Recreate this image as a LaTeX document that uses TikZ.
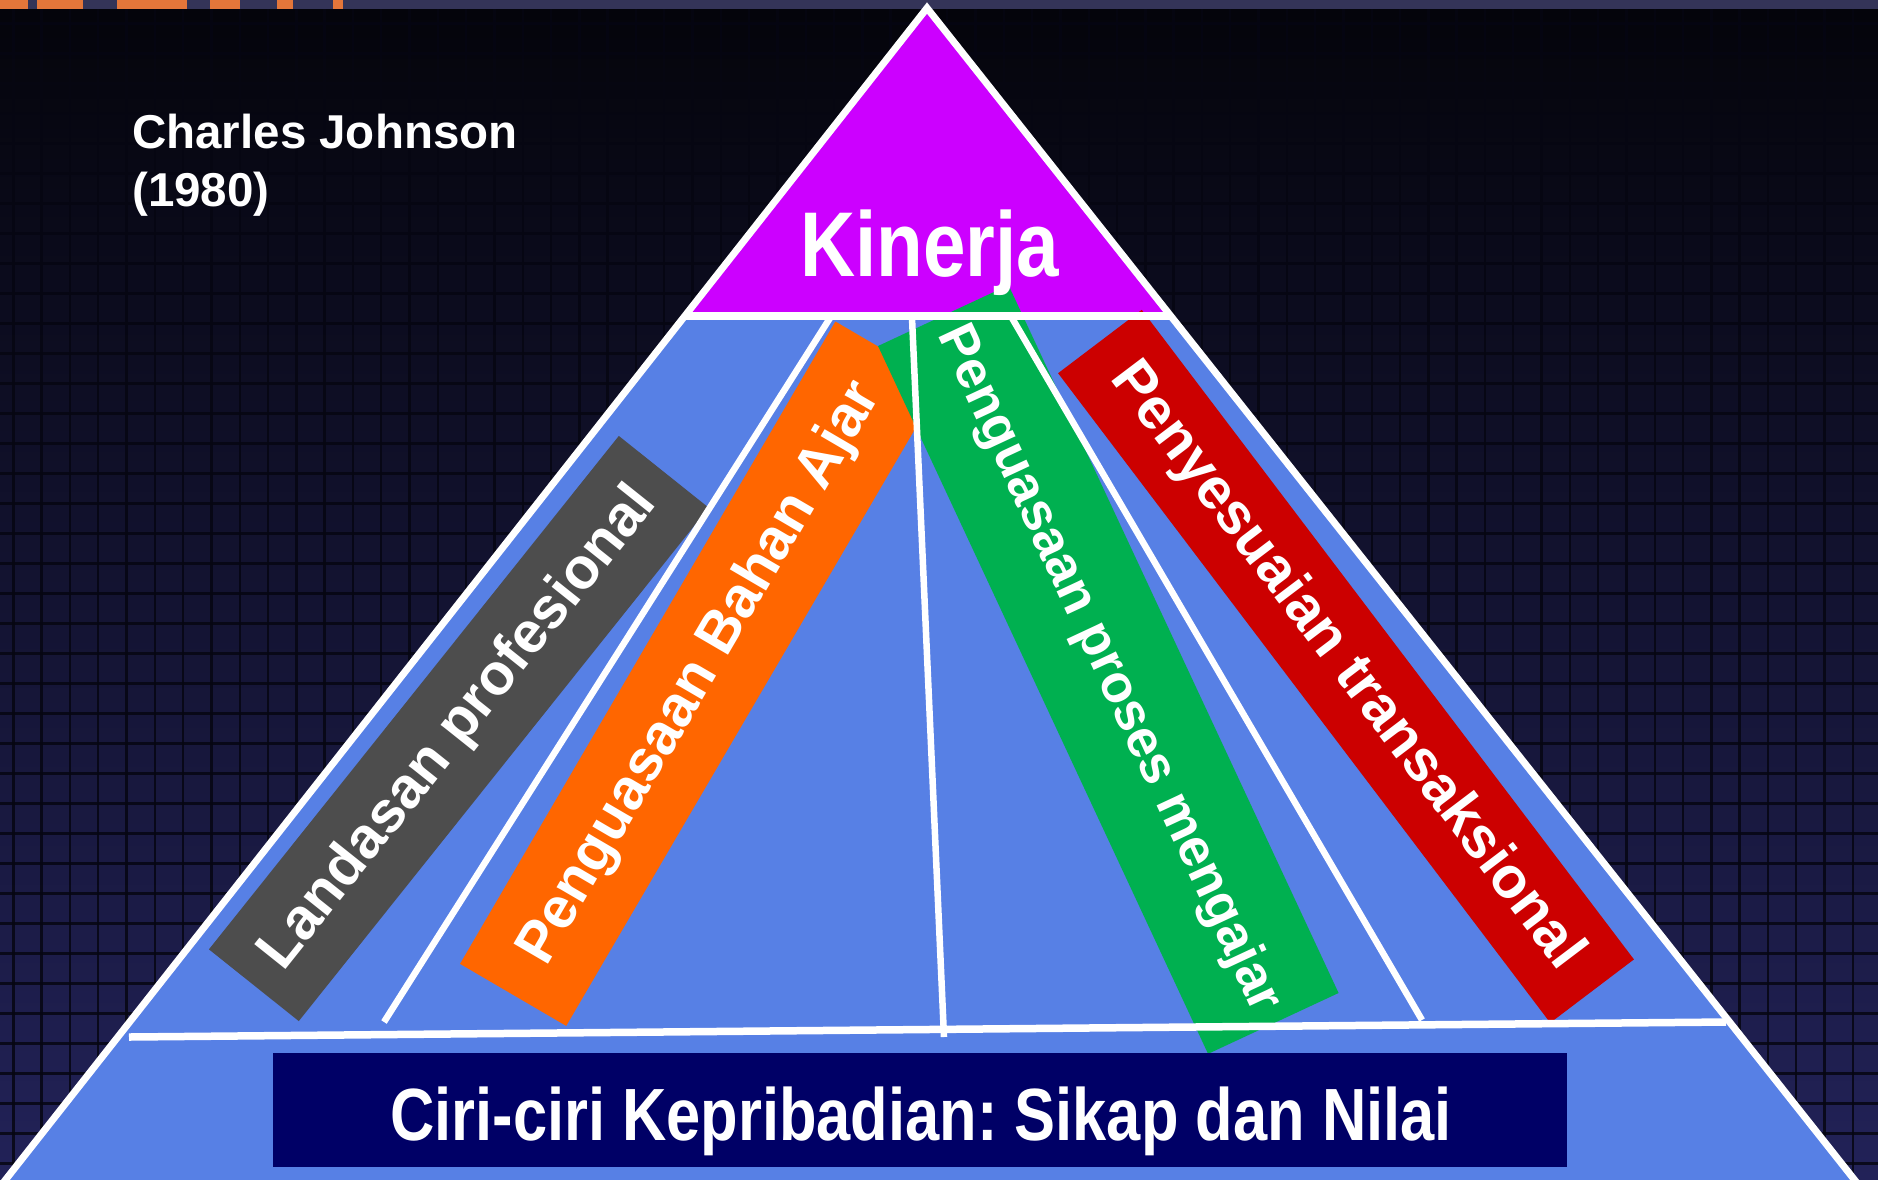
\documentclass[tikz,border=0pt]{standalone}
\usepackage{fontspec}
\setmainfont{Liberation Sans}
\newfontfamily\narrowfont[FakeStretch=0.83]{Liberation Sans}
\definecolor{bgtop}{RGB}{4,4,10}
\definecolor{bgmid}{RGB}{20,20,54}
\definecolor{bgbot}{RGB}{34,34,88}
\definecolor{gridc}{RGB}{6,6,18}
\definecolor{stripc}{RGB}{52,52,88}
\definecolor{photo}{RGB}{228,118,58}
\definecolor{pyrblue}{RGB}{87,128,229}
\definecolor{kpurple}{RGB}{204,0,255}
\definecolor{bgray}{RGB}{77,77,77}
\definecolor{borange}{RGB}{255,102,0}
\definecolor{bgreen}{RGB}{0,176,80}
\definecolor{bred}{RGB}{204,0,0}
\definecolor{bnavy}{RGB}{0,0,102}
\frenchspacing
\begin{document}
\begin{tikzpicture}[x=1pt,y=-1pt,
  band/.style={rectangle, inner sep=0pt, text=white, align=center,
    font=\bfseries\fontsize{58}{60}\selectfont},
  wline/.style={white, line width=7.5pt},
  iline/.style={white, line width=6.5pt},
  gridline/.style={gridc, line width=2.4pt, opacity=0.85},
  bigtext/.style={text=white, inner sep=0pt}
]
\useasboundingbox (0,0) rectangle (1878,1179);
% background
\shade[top color=bgtop, middle color=bgmid, bottom color=bgbot] (0,0) rectangle (1878,1179);
\foreach \i in {0,...,66}
  \draw[gridline] ({13.3+28.3*\i},9) -- ({13.3+28.3*\i},1179);
\foreach \j in {0,...,38}
  \draw[gridline] (0,{23.3+30*\j}) -- (1878,{23.3+30*\j});
% top photo strip
\fill[stripc] (0,0) rectangle (1878,9);
\foreach \a/\b in {0/28,37/83,117/187,210/240,277/293,333/343}
  \fill[photo] (\a,0) rectangle (\b,9);
% pyramid
\coordinate (apex) at (927,8);
\coordinate (bl) at (3,1183);
\coordinate (br) at (1857,1183);
\coordinate (kl) at (685,316);
\coordinate (kr) at (1170,316);
\fill[pyrblue] (apex) -- (bl) -- (br) -- cycle;
\fill[kpurple] (apex) -- (kl) -- (kr) -- cycle;
% bands
\node[band, fill=borange, rotate=59.7, minimum width=744pt, minimum height=123pt]
  (bahan) at (700.8,673.7) {Penguasaan Bahan Ajar};
\node[band, fill=bgray, rotate=51.4, minimum width=657pt, minimum height=115pt]
  (landasan) at (458.8,728.5) {Landasan profesional};
\node[band, fill=bgreen, rotate=-65.0, minimum width=781pt, minimum height=144pt,
  font=\bfseries\fontsize{53}{56}\selectfont]
  (proses) at (1108.3,669.5) {Penguasaan proses mengajar};
\node[band, fill=bred, rotate=-52.85, minimum width=815pt, minimum height=105pt]
  (penyesuaian) at (1346,666.3) {Penyesuaian transaksional};
% white separator lines
\coordinate (l1a) at (830,318);  \coordinate (l1b) at (384,1022);
\coordinate (l2a) at (912,318);  \coordinate (l2b) at (944,1037);
\coordinate (l3a) at (1012,318); \coordinate (l3b) at (1422,1020);
\coordinate (hba) at (129,1037); \coordinate (hbb) at (1726,1022);
\draw[iline] (l1a) -- (l1b);
\draw[iline] (l2a) -- (l2b);
\draw[iline] (l3a) -- (l3b);
\draw[wline] (hba) -- (hbb);
\draw[wline] (kl) -- (kr);
\draw[white, line width=7pt, line join=miter] (bl) -- (apex) -- (br);
% base box
\node[fill=bnavy, inner sep=0pt, minimum width=1294pt, minimum height=114pt] (ciribox) at (920,1110) {};
\node[bigtext, anchor=base, font=\narrowfont\bfseries\fontsize{74}{78}\selectfont]
  (ciri) at (921,1140) {Ciri-ciri Kepribadian: Sikap dan Nilai};
% top
\node[bigtext, anchor=base, font=\narrowfont\bfseries\fontsize{92}{96}\selectfont]
  (kinerja) at (929.5,276) {Kinerja};
% author
\node[bigtext, anchor=base west, font=\bfseries\fontsize{47.5}{50}\selectfont]
  (cj1) at (132,148) {Charles Johnson};
\node[bigtext, anchor=base west, font=\bfseries\fontsize{47.5}{50}\selectfont]
  (cj2) at (132,206) {(1980)};
\end{tikzpicture}
\end{document}
